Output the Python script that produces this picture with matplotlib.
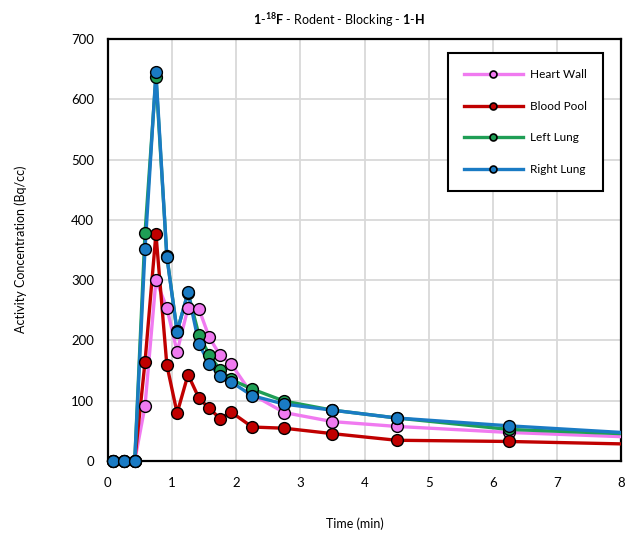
import matplotlib
matplotlib.use("Agg")
import matplotlib.pyplot as plt

plt.rcParams["font.family"] = ["Lato", "DejaVu Sans"]
plt.rcParams["mathtext.fontset"] = "custom"
plt.rcParams["mathtext.rm"] = "Lato"
plt.rcParams["mathtext.bf"] = "Lato:bold"

# time points (min); last point at 8 is the line tail, no marker
time_min = [0.083, 0.25, 0.42, 0.58, 0.75, 0.92, 1.08, 1.25, 1.42, 1.58,
            1.75, 1.92, 2.25, 2.75, 3.5, 4.5, 6.25, 8.0]

heart_wall = [0, 0, 0, 91, 300, 254, 181, 254, 252, 205,
              175, 161, 110, 80, 65, 57, 47, 40]
blood_pool = [0, 0, 0, 164, 377, 159, 79, 143, 104, 87,
              70, 81, 56, 54, 45, 34, 32, 28]
left_lung = [0, 0, 0, 378, 637, 340, 215, 279, 209, 176,
             151, 135, 119, 99, 84, 71, 52, 45]
right_lung = [0, 0, 0, 351, 645, 339, 214, 280, 194, 161,
              140, 131, 108, 94, 84, 71, 58, 47]

series_names = ["Heart Wall", "Blood Pool", "Left Lung", "Right Lung"]
series_values = [heart_wall, blood_pool, left_lung, right_lung]
series_colors = ["#F07AF0", "#C00000", "#1F9E55", "#1A7BC4"]

x_ticks = [0, 1, 2, 3, 4, 5, 6, 7, 8]
y_ticks = [0, 100, 200, 300, 400, 500, 600, 700]

fig = plt.figure(figsize=(6.34, 5.37), dpi=100)
ax = fig.add_axes([0.170, 0.142, 0.810, 0.785])

marks = list(range(len(time_min) - 1))
handles = []
for name, vals, color in zip(series_names, series_values, series_colors):
    ax.plot(time_min, vals, color=color, lw=2.4, zorder=3, clip_on=True)
    ax.plot(time_min, vals, ls="none", marker="o", markevery=marks,
            markersize=8.5, markerfacecolor=color, markeredgecolor="black",
            markeredgewidth=1.0, zorder=4, clip_on=False)
    h, = ax.plot([], [], color=color, lw=2.4, marker="o", markersize=5,
                 markerfacecolor=color, markeredgecolor="black",
                 markeredgewidth=1.2, label=name)
    handles.append(h)

ax.set_xlim(0, 8)
ax.set_ylim(0, 700)
ax.set_xticks(x_ticks)
ax.set_yticks(y_ticks)
ax.tick_params(length=0, labelsize=9.5, pad=10)
ax.tick_params(axis="x", pad=12)
ax.grid(True, color="#d9d9d9", lw=1.3)
ax.set_axisbelow(True)
for sp in ax.spines.values():
    sp.set_linewidth(1.6)
    sp.set_color("black")

leg = ax.legend(handles=handles, loc="upper right",
                bbox_to_anchor=(0.964, 0.967), fontsize=8.5,
                handlelength=5.0, handletextpad=0.6, labelspacing=1.75,
                borderpad=1.35, borderaxespad=0, fancybox=False,
                framealpha=1, edgecolor="black")
leg.get_frame().set_linewidth(1.5)

fig.text(0.535, 0.962,
         r"$\mathbf{1}$-$\mathbf{^{18}F}$ - Rodent - Blocking - $\mathbf{1}$-$\mathbf{H}$",
         ha="center", va="center", fontsize=9)
fig.text(0.032, 0.535, "Activity Concentration (Bq/cc)", rotation=90,
         ha="center", va="center", fontsize=9)
fig.text(0.56, 0.024, "Time (min)", ha="center", va="center", fontsize=9)

fig.savefig("out.png", dpi=100)
